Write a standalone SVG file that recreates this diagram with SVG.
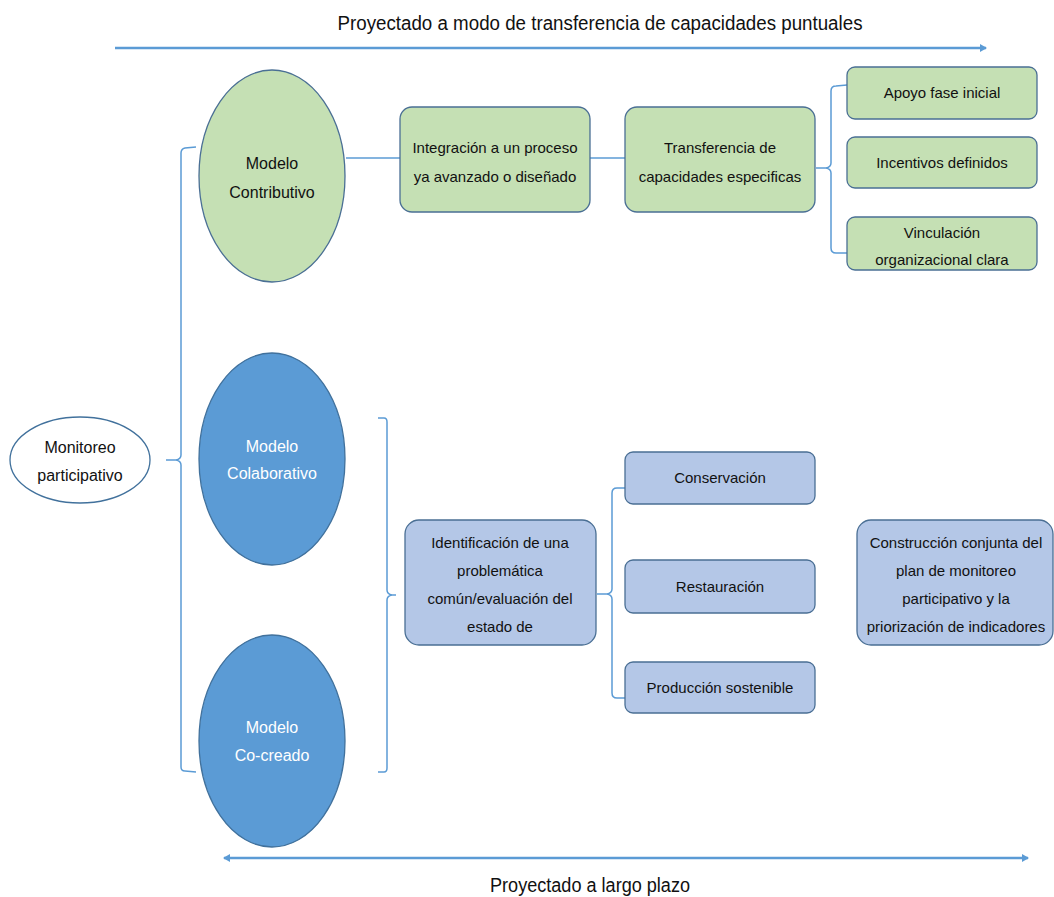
<svg xmlns="http://www.w3.org/2000/svg" width="1054" height="897" viewBox="0 0 1054 897">
<defs>
<style>
text{font-family:"Liberation Sans",Arial,sans-serif;font-size:15px;fill:#111;text-anchor:middle}
.w{fill:#fff;font-size:16px}
.e{font-size:16px}
.big{font-size:20px}
.g{fill:#c5e0b4;stroke:#4a6f94;stroke-width:1.3}
.b{fill:#b4c7e7;stroke:#4a6f94;stroke-width:1.3}
.d{fill:#5b9bd5;stroke:#41719c;stroke-width:1.3}
.c{fill:none;stroke:#5b9bd5;stroke-width:1.5}
.ax{fill:none;stroke:#5b9bd5;stroke-width:2.5}
</style>
<marker id="ah" markerWidth="8" markerHeight="8" refX="6" refY="4" orient="auto-start-reverse" markerUnits="userSpaceOnUse">
<path d="M0,0 L7,4 L0,8 Z" fill="#5b9bd5"/>
</marker>
</defs>
<rect width="1054" height="897" fill="#fff"/>

<g id="connectors">
<line class="ax" x1="115" y1="48" x2="986" y2="48" marker-end="url(#ah)"/>
<line class="ax" x1="224" y1="858" x2="1028" y2="858" marker-start="url(#ah)" marker-end="url(#ah)"/>
<path class="c" d="M196,147 L185,148 Q181,149 181,153 L181,455 Q181,459 176,460 L166,460 M176,460 Q181,461 181,465 L181,767 Q181,771 185,771 L196,772"/>
<path class="c" d="M378,418 L384,418 Q387,418 387,422 L387,590 Q387,594 392,595 L396,595 M392,595 Q387,596 387,600 L387,768 Q387,772 384,772 L378,772"/>
<line class="c" x1="346" y1="158" x2="400" y2="158"/>
<line class="c" x1="590" y1="158" x2="625" y2="158"/>
<path class="c" d="M816,168 L826,168 Q831,167 831,163 L831,91 Q831,86 836,86 L847,85 M826,168 Q831,169 831,173 L831,248 Q831,253 836,253 L847,253"/>
<path class="c" d="M597,594 L607,594 Q612,593 612,589 L612,493 Q612,488 617,488 L625,488 M607,594 Q612,595 612,599 L612,693 Q612,698 617,698 L625,698"/>
</g>

<g id="title-top"><text class="big" x="600" y="30" textLength="525" lengthAdjust="spacingAndGlyphs">Proyectado a modo de transferencia de capacidades puntuales</text></g>
<g id="title-bottom"><text class="big" x="590" y="892" textLength="200" lengthAdjust="spacingAndGlyphs">Proyectado a largo plazo</text></g>

<g id="monitoreo">
<ellipse cx="80" cy="460" rx="70" ry="43" fill="#fff" stroke="#41719c" stroke-width="1.3"/>
<text class="e" x="80" y="453">Monitoreo</text>
<text class="e" x="80" y="481">participativo</text>
</g>

<g id="contributivo">
<ellipse class="g" cx="272" cy="176" rx="73" ry="106"/>
<text class="e" x="272" y="169">Modelo</text>
<text class="e" x="272" y="198">Contributivo</text>
</g>

<g id="colaborativo">
<ellipse class="d" cx="272" cy="459" rx="73" ry="106"/>
<text class="w" x="272" y="452">Modelo</text>
<text class="w" x="272" y="479">Colaborativo</text>
</g>

<g id="cocreado">
<ellipse class="d" cx="272" cy="741" rx="73" ry="106"/>
<text class="w" x="272" y="733">Modelo</text>
<text class="w" x="272" y="761">Co-creado</text>
</g>

<g id="integracion">
<rect class="g" x="400" y="107" width="190" height="105" rx="12"/>
<text x="495" y="153">Integración a un proceso</text>
<text x="495" y="182">ya avanzado o diseñado</text>
</g>

<g id="transferencia">
<rect class="g" x="625" y="107" width="190" height="105" rx="12"/>
<text x="720" y="153">Transferencia de</text>
<text x="720" y="182">capacidades especificas</text>
</g>

<g id="apoyo">
<rect class="g" x="847" y="67" width="190" height="52" rx="8"/>
<text x="942" y="98">Apoyo fase inicial</text>
</g>

<g id="incentivos">
<rect class="g" x="847" y="137" width="190" height="51" rx="8"/>
<text x="942" y="168">Incentivos definidos</text>
</g>

<g id="vinculacion">
<rect class="g" x="847" y="217" width="190" height="53" rx="8"/>
<text x="942" y="238">Vinculación</text>
<text x="942" y="265">organizacional clara</text>
</g>

<g id="identificacion">
<rect class="b" x="405" y="520" width="191" height="125" rx="14"/>
<text x="500" y="548">Identificación de una</text>
<text x="500" y="576">problemática</text>
<text x="500" y="604">común/evaluación del</text>
<text x="500" y="632">estado de</text>
</g>

<g id="conservacion">
<rect class="b" x="625" y="452" width="190" height="52" rx="8"/>
<text x="720" y="483">Conservación</text>
</g>

<g id="restauracion">
<rect class="b" x="625" y="560" width="190" height="53" rx="8"/>
<text x="720" y="592">Restauración</text>
</g>

<g id="produccion">
<rect class="b" x="625" y="662" width="190" height="51" rx="8"/>
<text x="720" y="693">Producción sostenible</text>
</g>

<g id="construccion">
<rect class="b" x="857" y="520" width="196" height="125" rx="14"/>
<text x="956" y="548">Construcción conjunta del</text>
<text x="956" y="576">plan de monitoreo</text>
<text x="956" y="604">participativo y la</text>
<text x="956" y="632">priorización de indicadores</text>
</g>
</svg>
